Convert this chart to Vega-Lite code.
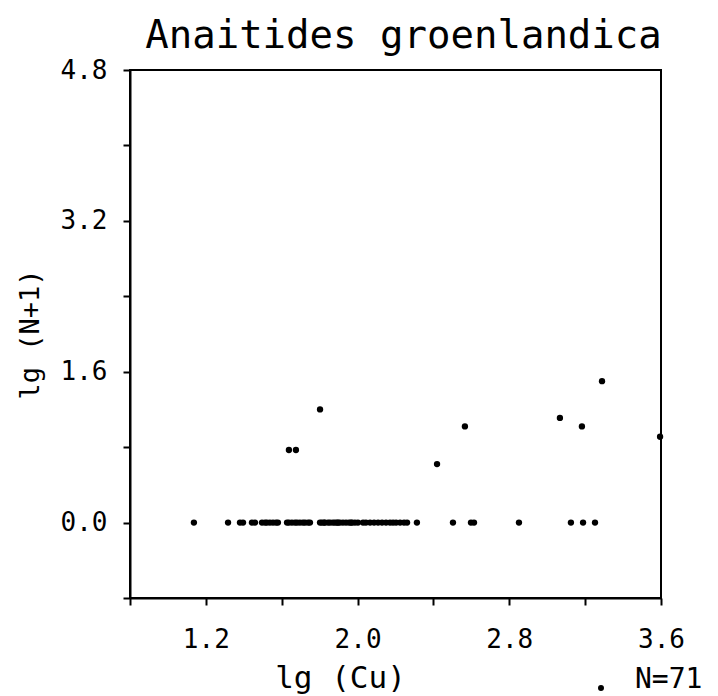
{
  "$schema": "https://vega.github.io/schema/vega-lite/v6.json",
  "width": 531,
  "height": 528,
  "autosize": "none",
  "padding": {"left": 130, "top": 70, "right": 57, "bottom": 98},
  "background": "white",
  "title": {"text": "Anaitides groenlandica", "font": "DejaVu Sans Mono", "fontSize": 39, "fontWeight": "normal", "color": "black", "anchor": "middle", "dx": 8, "offset": 1},
  "config": {
    "view": {"stroke": "black", "strokeWidth": 2},
    "axis": {"domainColor": "black", "domainWidth": 2, "tickColor": "black", "tickWidth": 2, "tickSize": 7, "grid": false, "labelColor": "black", "labelFont": "DejaVu Sans Mono", "labelFontSize": 26, "titleColor": "black", "titleFontWeight": "normal", "labelFlush": false, "labelOverlap": false}
  },
  "data": {"values": [
    {"x": 1.137, "y": 0}, {"x": 1.317, "y": 0}, {"x": 1.380, "y": 0}, {"x": 1.396, "y": 0}, {"x": 1.443, "y": 0}, {"x": 1.459, "y": 0},
    {"x": 1.496, "y": 0}, {"x": 1.512, "y": 0}, {"x": 1.522, "y": 0}, {"x": 1.538, "y": 0}, {"x": 1.554, "y": 0}, {"x": 1.570, "y": 0}, {"x": 1.580, "y": 0},
    {"x": 1.628, "y": 0}, {"x": 1.638, "y": 0}, {"x": 1.654, "y": 0}, {"x": 1.670, "y": 0}, {"x": 1.681, "y": 0}, {"x": 1.696, "y": 0}, {"x": 1.712, "y": 0}, {"x": 1.723, "y": 0}, {"x": 1.739, "y": 0}, {"x": 1.749, "y": 0},
    {"x": 1.802, "y": 0}, {"x": 1.812, "y": 0}, {"x": 1.823, "y": 0}, {"x": 1.828, "y": 0}, {"x": 1.844, "y": 0}, {"x": 1.855, "y": 0}, {"x": 1.870, "y": 0}, {"x": 1.881, "y": 0}, {"x": 1.892, "y": 0}, {"x": 1.897, "y": 0}, {"x": 1.907, "y": 0}, {"x": 1.923, "y": 0}, {"x": 1.939, "y": 0}, {"x": 1.955, "y": 0}, {"x": 1.965, "y": 0}, {"x": 1.971, "y": 0}, {"x": 1.986, "y": 0}, {"x": 2.002, "y": 0},
    {"x": 2.029, "y": 0}, {"x": 2.044, "y": 0}, {"x": 2.066, "y": 0}, {"x": 2.087, "y": 0}, {"x": 2.108, "y": 0}, {"x": 2.129, "y": 0},
    {"x": 2.150, "y": 0}, {"x": 2.171, "y": 0}, {"x": 2.187, "y": 0}, {"x": 2.203, "y": 0}, {"x": 2.224, "y": 0}, {"x": 2.245, "y": 0}, {"x": 2.261, "y": 0},
    {"x": 2.313, "y": 0}, {"x": 2.503, "y": 0}, {"x": 2.598, "y": 0}, {"x": 2.614, "y": 0}, {"x": 2.851, "y": 0},
    {"x": 3.125, "y": 0}, {"x": 3.189, "y": 0}, {"x": 3.252, "y": 0},
    {"x": 1.638, "y": 0.77}, {"x": 1.675, "y": 0.77}, {"x": 1.802, "y": 1.20}, {"x": 2.419, "y": 0.62}, {"x": 2.566, "y": 1.02},
    {"x": 3.067, "y": 1.11}, {"x": 3.183, "y": 1.02}, {"x": 3.289, "y": 1.50}, {"x": 3.595, "y": 0.91}
  ]},
  "mark": {"type": "point", "filled": true, "color": "black", "size": 40, "opacity": 1},
  "encoding": {
    "x": {
      "field": "x", "type": "quantitative",
      "scale": {"domain": [0.8, 3.6], "nice": false, "zero": false},
      "axis": {
        "values": [0.8, 1.2, 1.6, 2.0, 2.4, 2.8, 3.2, 3.6],
        "labelExpr": "(abs(datum.value-1.2)<0.01 || abs(datum.value-2.0)<0.01 || abs(datum.value-2.8)<0.01 || abs(datum.value-3.6)<0.01) ? format(datum.value, '.1f') : ''",
        "labelPadding": 21,
        "title": "lg (Cu)", "titleFont": "DejaVu Sans Mono", "titleFontSize": 31,
        "titleX": 210, "titleY": 89, "titleBaseline": "alphabetic", "titleAnchor": "middle", "titleAlign": "center"
      }
    },
    "y": {
      "field": "y", "type": "quantitative",
      "scale": {"domain": [-0.8, 4.8], "nice": false, "zero": false},
      "axis": {
        "values": [-0.8, 0, 0.8, 1.6, 2.4, 3.2, 4.0, 4.8],
        "labelExpr": "(abs(datum.value-4.8)<0.01 || abs(datum.value-3.2)<0.01 || abs(datum.value-1.6)<0.01 || abs(datum.value)<0.01) ? format(datum.value, '.1f') : ''",
        "labelPadding": 16,
        "title": "lg (N+1)", "titleFont": "DejaVu Sans Mono", "titleFontSize": 27, "titlePadding": 16
      }
    },
    "color": {
      "datum": "N=71",
      "scale": {"range": ["black"]},
      "legend": {"orient": "none", "legendX": 457, "legendY": 604, "title": null, "labelFont": "DejaVu Sans Mono", "labelFontSize": 28, "labelColor": "black", "labelBaseline": "alphabetic", "symbolType": "circle", "symbolSize": 20, "symbolFillColor": "black", "symbolStrokeColor": "black", "labelOffset": 20}
    }
  }
}
